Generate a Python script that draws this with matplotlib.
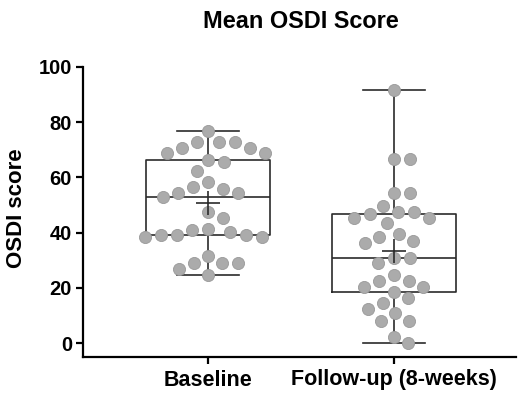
import numpy as np
import matplotlib
matplotlib.use("Agg")
import matplotlib.pyplot as plt

plt.rcParams['font.family'] = ['Liberation Sans', 'DejaVu Sans']
plt.rcParams['font.weight'] = 'bold'

# data (OSDI score per patient)
groups = ['Baseline', 'Follow-up (8-weeks)']
baseline = [76.9, 72.7, 72.7, 70.8, 70.8, 72.7, 68.7, 68.7, 65.7, 66.5, 62.3,
            56.6, 54.5, 53.0, 54.2, 56.0, 58.2, 47.6, 45.5, 40.9, 39.1, 39.1,
            38.3, 38.3, 39.1, 40.3, 41.5, 31.6, 28.9, 28.9, 26.8, 28.9, 24.7]
followup = [91.7, 66.7, 66.7, 54.2, 54.2, 47.6, 46.6, 45.2, 43.4, 45.4, 47.6,
            49.8, 38.3, 36.1, 37.1, 39.4, 31.0, 29.2, 31.0, 24.6, 22.6, 20.4,
            20.4, 22.6, 18.6, 16.4, 14.4, 12.3, 10.8, 8.1, 8.1, 2.1, 0.0]
yticks = [0, 20, 40, 60, 80, 100]

line_col = '#2b2b2b'
dot_face = '#ababab'
dot_edge = '#999999'

fig = plt.figure(figsize=(5.18, 3.93), dpi=100)
ax = fig.add_axes([83 / 518, 36 / 393, 433 / 518, 290 / 393])
ax.set_xlim(-0.674, 1.66)
ax.set_ylim(-5, 100)

data = [baseline, followup]
ax.boxplot(data, positions=[0, 1], widths=0.668, whis=(0, 100),
           showfliers=False, patch_artist=False,
           boxprops=dict(color=line_col, lw=1.2),
           medianprops=dict(color=line_col, lw=1.2),
           whiskerprops=dict(color=line_col, lw=1.2),
           capprops=dict(color=line_col, lw=1.2),
           capwidths=0.334, zorder=2)


def swarm(xc, vals, gap):
    # greedy beeswarm in pixel space, top to bottom
    pts = ax.transData.transform(np.column_stack([np.full(len(vals), xc), vals]))
    x0 = pts[0, 0]
    order = np.argsort(-vals, kind='stable')
    placed = []
    out = np.zeros(len(vals))
    for i in order:
        y = pts[i, 1]
        cands = [0.0]
        for (px, py) in placed:
            dy = abs(py - y)
            if dy < gap:
                dx = np.sqrt(gap ** 2 - dy ** 2)
                cands += [px + dx, px - dx]
        cands.sort(key=abs)
        for c in cands:
            if all((c - px) ** 2 + (y - py) ** 2 >= gap ** 2 - 1e-6 for px, py in placed):
                placed.append((c, y))
                out[i] = c
                break
    xy = np.column_stack([x0 + out, pts[:, 1]])
    return ax.transData.inverted().transform(xy)[:, 0]


for k, vals in enumerate(data):
    xs = swarm(k, np.array(vals), 16)
    ax.scatter(xs, vals, s=76, color=dot_face, edgecolors=dot_edge,
               linewidths=0.6, zorder=3)
    ax.plot(k, np.mean(vals), marker='+', ms=17, mew=1.2, color=line_col, zorder=4)

for s in ['top', 'right']:
    ax.spines[s].set_visible(False)
ax.spines['left'].set_bounds(-5, 100)
for s in ['left', 'bottom']:
    ax.spines[s].set_linewidth(1.6)
    ax.spines[s].set_color('black')

ax.set_yticks(yticks)
ax.set_xticks([0, 1])
ax.set_xticklabels(groups)
ax.tick_params(axis='both', direction='out', length=5, width=1.6)
ax.tick_params(axis='y', pad=3, labelsize=14.5)
ax.tick_params(axis='x', pad=4, labelsize=15.5)
for lab in ax.get_xticklabels() + ax.get_yticklabels():
    lab.set_fontweight('bold')

fig.text(17 / 518, 1 - 208 / 393, 'OSDI score', rotation=90, fontsize=16,
         fontweight='bold', ha='center', va='center')
fig.text(301 / 518, 1 - 22 / 393, 'Mean OSDI Score', fontsize=16.9,
         fontweight='bold', ha='center', va='center')

fig.savefig('out.png', dpi=100)
